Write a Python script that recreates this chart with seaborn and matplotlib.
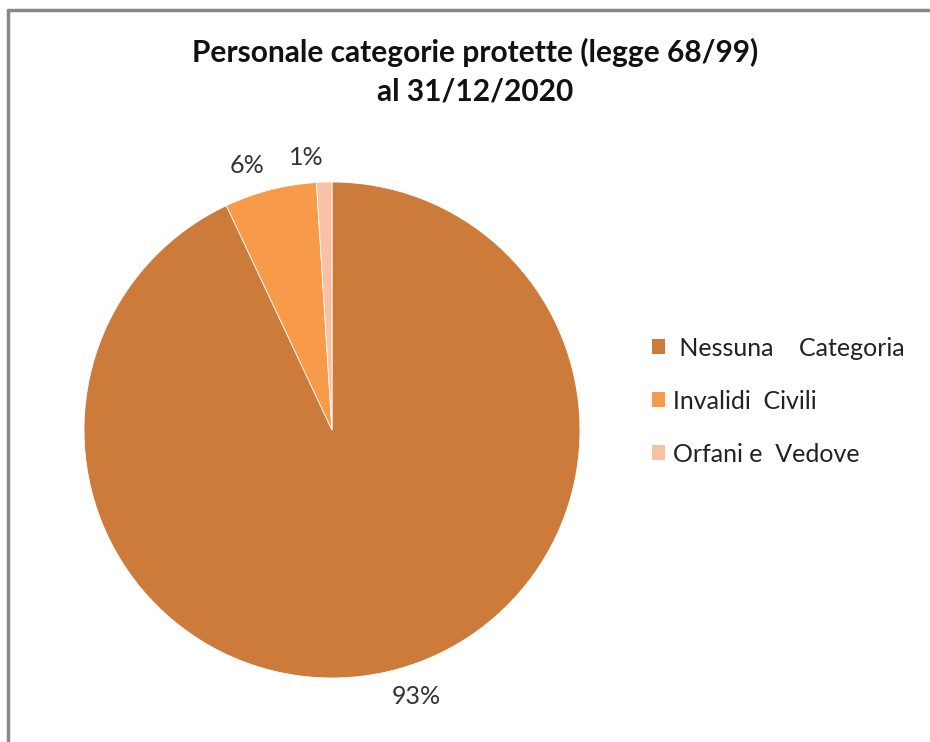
import matplotlib
matplotlib.use("Agg")
import matplotlib.pyplot as plt
import seaborn as sns
from matplotlib.lines import Line2D
from matplotlib.patches import Patch

sns.set_theme(style="white")
plt.rcParams['font.family'] = ['Lato', 'DejaVu Sans']

categories = [" Nessuna    Categoria", "Invalidi  Civili", "Orfani e  Vedove"]
values = [93, 6, 1]
labels = ["93%", "6%", "1%"]
colors = ["#CD7B3A", "#F79A4A", "#F9C0A4"]

W, H = 930, 742
fig = plt.figure(figsize=(W / 100, H / 100), dpi=100)
fig.patch.set_facecolor("white")

# pie axes: center (332,430), radius 248
cx, cy, r = 332, 430, 248
ax = fig.add_axes([(cx - r) / W, 1 - (cy + r) / H, 2 * r / W, 2 * r / H])
wedges, texts = ax.pie(values, colors=colors, startangle=90, counterclock=False,
                       labels=labels, labeldistance=1.1,
                       wedgeprops=dict(linewidth=0.6, edgecolor="white"),
                       textprops=dict(fontsize=18, color="#333333"))
ax.set_aspect("equal")
ax.set_xlim(-1, 1)
ax.set_ylim(-1, 1)
ax.axis("off")

fig.text(475 / W, 1 - 52 / H, "Personale categorie protette (legge 68/99)",
         ha="center", va="center", fontsize=21.5, fontweight="bold", color="#111111")
fig.text(475 / W, 1 - 91 / H, "al 31/12/2020",
         ha="center", va="center", fontsize=21.5, fontweight="bold", color="#111111")

handles = [Patch(facecolor=c, edgecolor="none") for c in colors]
fig.legend(handles, categories, loc="center left", bbox_to_anchor=(629 / W, 1 - 401 / H),
           frameon=False, fontsize=18, handlelength=0.55, handleheight=0.55,
           handletextpad=0.3, labelspacing=1.2, labelcolor="#222222")

# frame
fig.add_artist(Line2D([8 / W, 8 / W], [0, 1 - 10 / H], color="#888888", lw=2.5,
                      transform=fig.transFigure))
fig.add_artist(Line2D([8 / W, 1], [1 - 10 / H, 1 - 10 / H], color="#888888", lw=2.5,
                      transform=fig.transFigure))

fig.savefig("out.png", dpi=100, facecolor="white")
